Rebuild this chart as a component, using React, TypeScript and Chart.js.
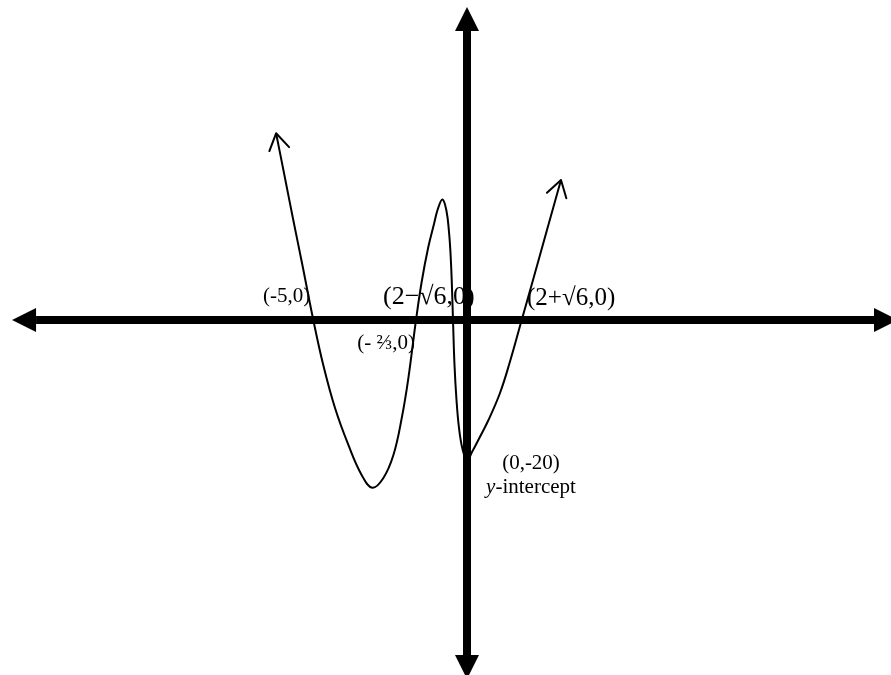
import { useEffect, useRef } from "react";
import { Chart, LinearScale, registerables } from "chart.js";

// Sampled points along the hand-drawn quartic (x and y in function units)
const CURVE_X = [
  -6.57, -6.22, -5.86, -5.46, -5, -4.58, -4.08, -3.52, -2.96, -2.51, -2.05, -1.62, -1.27,
  -0.99, -0.6667, -0.6333, -0.5945, -0.561, -0.5376, -0.5111, -0.4877, -0.473, -0.4642,
  -0.4571, -0.4495, -0.4013, -0.3371, -0.2569, -0.1445, 0, 0.407, 1.057, 1.708, 2.684,
  3.498, 4.4495, 5.393, 6.483, 7.646,
];
const CURVE_Y = [
  26.58, 20.64, 14.48, 7.83, 0, -6.41, -12.57, -17.79, -22.06, -23.87, -22.53, -19.22,
  -13.99, -8.3, 0, 5.45, 10.39, 13.67, 15.87, 17.15, 15.52, 12.53, 9.54, 5.69, 0, -6.41,
  -11.39, -15.37, -18.36, -20, -18.79, -16.61, -14.38, -10.39, -5.91, 0, 5.84, 12.67, 19.93,
];

// Intercepts named on the sketch
const LABEL_TEXT = ["(-5,0)", "(2\u2212\u221A6,0)", "(- \u2154,0)", "(2+\u221A6,0)", "(0,-20)"];
const LABEL_X = [-5, -0.4495, -0.6667, 4.4495, 0];
const LABEL_Y = [0, 0, 0, 0, -20];
const CAPTION_ITALIC = "y";
const CAPTION_REST = "-intercept";

// Axis extents (arrow tips)
const AXIS_X = [-17.71, 35.06];
const AXIS_Y = [-51.1, 44.56];

// The sketch is not to scale horizontally: intercepts are spaced by hand.
const KNOT_VALUES = [-5, -0.6667, -0.4495, 0, 4.4495];
const KNOT_POS = [-15.37, -5.1, -1.4, 0, 5.47];

function interp(v: number, from: number[], to: number[]): number {
  const n = from.length;
  let i = 0;
  if (v >= from[n - 1]) i = n - 2;
  else if (v > from[0]) {
    while (v > from[i + 1]) i++;
  }
  const t = (v - from[i]) / (from[i + 1] - from[i]);
  return to[i] + t * (to[i + 1] - to[i]);
}

class SketchScale extends LinearScale {
  static id = "sketch";
  static defaults = LinearScale.defaults;
  getPixelForValue(value: number) {
    if (value === null || value === undefined) return NaN;
    return super.getPixelForValue(interp(value, KNOT_VALUES, KNOT_POS));
  }
  getValueForPixel(pixel: number) {
    return interp(super.getValueForPixel(pixel) as number, KNOT_POS, KNOT_VALUES);
  }
}

Chart.register(...registerables, SketchScale);

const LABEL_STYLE = [
  { dx: -3, dy: -18, size: 21, align: "right" },
  { dx: -70, dy: -16, size: 26, align: "left" },
  { dx: -1, dy: 29, size: 21, align: "right" },
  { dx: 5.3, dy: -15, size: 25, align: "left" },
  { dx: 64, dy: 8.5, size: 21, align: "center" },
];
const CAPTION_STYLE = { dx: 64, dy: 32.5, size: 21 };
const SERIF = '"Liberation Serif", "Times New Roman", serif';

function openArrow(ctx: CanvasRenderingContext2D, fx: number, fy: number, tx: number, ty: number) {
  const ang = Math.atan2(ty - fy, tx - fx);
  const len = 19;
  const spread = (32 * Math.PI) / 180;
  ctx.beginPath();
  ctx.moveTo(tx - len * Math.cos(ang - spread), ty - len * Math.sin(ang - spread));
  ctx.lineTo(tx, ty);
  ctx.lineTo(tx - len * Math.cos(ang + spread), ty - len * Math.sin(ang + spread));
  ctx.stroke();
}

function arrowAxis(ctx: CanvasRenderingContext2D, ax: number, ay: number, bx: number, by: number) {
  const head = 24;
  const half = 12;
  const L = Math.hypot(bx - ax, by - ay);
  const ux = (bx - ax) / L;
  const uy = (by - ay) / L;
  ctx.beginPath();
  ctx.moveTo(ax + ux * head, ay + uy * head);
  ctx.lineTo(bx - ux * head, by - uy * head);
  ctx.stroke();
  const tri = (tx: number, ty: number, dx: number, dy: number) => {
    const bxp = tx - dx * head;
    const byp = ty - dy * head;
    ctx.beginPath();
    ctx.moveTo(tx, ty);
    ctx.lineTo(bxp - dy * half, byp + dx * half);
    ctx.lineTo(bxp + dy * half, byp - dx * half);
    ctx.closePath();
    ctx.fill();
  };
  tri(bx, by, ux, uy);
  tri(ax, ay, -ux, -uy);
}

const overlay = {
  id: "sketchOverlay",
  afterDatasetsDraw(chart: any) {
    const ctx: CanvasRenderingContext2D = chart.ctx;
    const xs = chart.scales.x;
    const ys = chart.scales.y;
    ctx.save();
    ctx.strokeStyle = "#000";
    ctx.fillStyle = "#000";
    ctx.lineCap = "round";
    ctx.lineJoin = "round";

    // open arrowheads at both ends of the curve
    const pts = chart.getDatasetMeta(0).data;
    const n = pts.length;
    ctx.lineWidth = 2;
    openArrow(ctx, pts[1].x, pts[1].y, pts[0].x, pts[0].y);
    openArrow(ctx, pts[n - 2].x, pts[n - 2].y, pts[n - 1].x, pts[n - 1].y);

    // coordinate axes with solid arrowheads
    ctx.lineCap = "butt";
    ctx.lineWidth = 8;
    const x0 = xs.getPixelForValue(0);
    const y0 = ys.getPixelForValue(0);
    arrowAxis(ctx, xs.getPixelForValue(AXIS_X[0]), y0, xs.getPixelForValue(AXIS_X[1]), y0);
    arrowAxis(ctx, x0, ys.getPixelForValue(AXIS_Y[0]), x0, ys.getPixelForValue(AXIS_Y[1]));

    // intercept labels
    ctx.textBaseline = "alphabetic";
    LABEL_TEXT.forEach((t, i) => {
      const s = LABEL_STYLE[i];
      ctx.font = `${s.size}px ${SERIF}`;
      ctx.textAlign = s.align as CanvasTextAlign;
      ctx.fillText(t, xs.getPixelForValue(LABEL_X[i]) + s.dx, ys.getPixelForValue(LABEL_Y[i]) + s.dy);
    });

    // "y-intercept" caption, centred under the y-intercept label
    const cx = xs.getPixelForValue(LABEL_X[4]) + CAPTION_STYLE.dx;
    const cy = ys.getPixelForValue(LABEL_Y[4]) + CAPTION_STYLE.dy;
    ctx.textAlign = "left";
    ctx.font = `italic ${CAPTION_STYLE.size}px ${SERIF}`;
    const wI = ctx.measureText(CAPTION_ITALIC).width;
    ctx.font = `${CAPTION_STYLE.size}px ${SERIF}`;
    const wR = ctx.measureText(CAPTION_REST).width;
    const start = cx - (wI + wR) / 2;
    ctx.font = `italic ${CAPTION_STYLE.size}px ${SERIF}`;
    ctx.fillText(CAPTION_ITALIC, start, cy);
    ctx.font = `${CAPTION_STYLE.size}px ${SERIF}`;
    ctx.fillText(CAPTION_REST, start + wI, cy);
    ctx.restore();
  },
};

export default function App() {
  const ref = useRef<HTMLCanvasElement | null>(null);
  useEffect(() => {
    if (!ref.current) return;
    const chart = new Chart(ref.current, {
      type: "line",
      data: {
        datasets: [
          {
            data: CURVE_X.map((x, i) => ({ x, y: CURVE_Y[i] })),
            borderColor: "#000",
            borderWidth: 2,
            pointRadius: 0,
            fill: false,
            tension: 0.4,
          },
        ],
      },
      options: {
        animation: false,
        responsive: false,
        devicePixelRatio: 1,
        layout: { padding: 0 },
        scales: {
          x: { type: "sketch" as any, min: -46.7, max: 42.4, display: false },
          y: { type: "linear", min: -50.53, max: 45.55, display: false },
        },
        plugins: { legend: { display: false }, tooltip: { enabled: false } },
      },
      plugins: [overlay],
    });
    return () => chart.destroy();
  }, []);
  return (
    <div style={{ position: "fixed", left: 0, top: 0, width: 891, height: 675, background: "#fff" }}>
      <canvas ref={ref} width={891} height={675} style={{ display: "block" }} />
    </div>
  );
}
